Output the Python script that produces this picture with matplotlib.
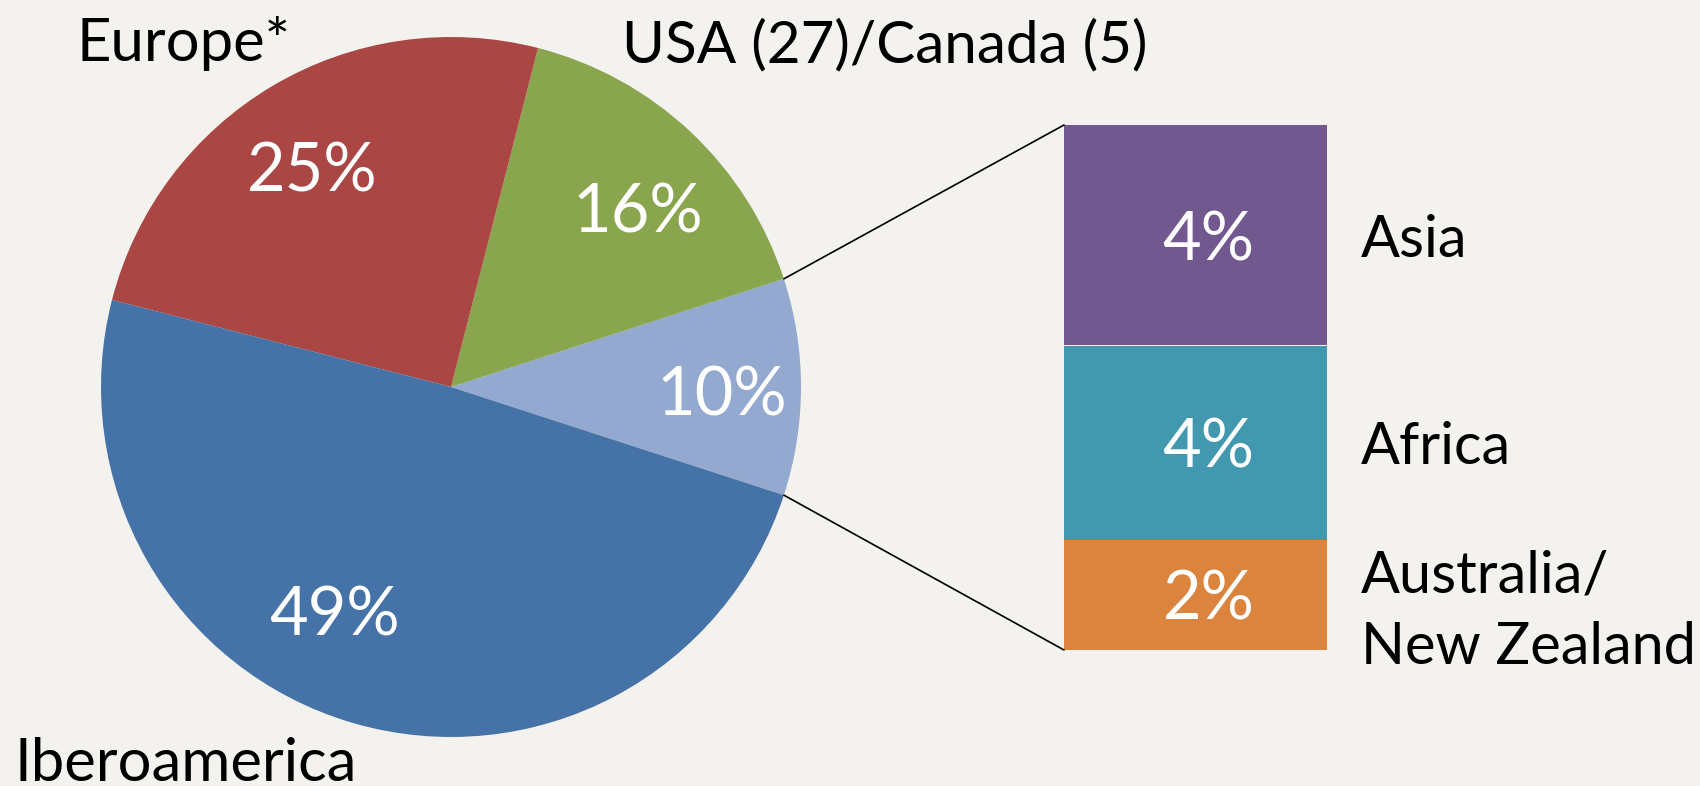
import numpy as np
import matplotlib.pyplot as plt
from matplotlib.patches import ConnectionPatch

plt.rcParams['font.family'] = ['Lato', 'DejaVu Sans']

# Main pie data (counter-clockwise from the "other" wedge on the right)
pie_labels = ['Other', 'USA (27)/Canada (5)', 'Europe*', 'Iberoamerica']
pie_values = [10, 16, 25, 49]
pie_colors = ['#93A9CF', '#89A54E', '#AA4643', '#4572A7']

# Breakdown of "Other" (bottom to top)
bar_labels = ['Australia/\nNew Zealand', 'Africa', 'Asia']
bar_values = [2.1, 3.7, 4.2]
bar_colors = ['#DB843D', '#4198AF', '#71588F']

bg = '#F3F2EE'
W, H = 1700, 786

fig = plt.figure(figsize=(W / 100, H / 100), dpi=100, facecolor=bg)

# pie
ax1 = fig.add_axes([101 / W, (H - 737) / H, 700 / W, 700 / H])
wedges, texts, autotexts = ax1.pie(
    pie_values, colors=pie_colors, startangle=-18, counterclock=True,
    autopct='%1.0f%%', radius=1,
    wedgeprops=dict(linewidth=0),
    textprops=dict(color='white', fontsize=48))
# percent labels placed like the original (in pie radius units)
pct_pos = [(0.774, -0.011), (0.534, 0.514), (-0.397, 0.629), (-0.334, -0.64)]
for t, p in zip(autotexts, pct_pos):
    t.set_position(p)
    t.set_va('center_baseline')
ax1.set_xlim(-1, 1)
ax1.set_ylim(-1, 1)
ax1.axis('off')

# outside labels of the pie
fig.text(76 / W, 1 - 61 / H, pie_labels[2], fontsize=43, va='baseline')
fig.text(622 / W, 1 - 62 / H, pie_labels[1], fontsize=42, va='baseline')
fig.text(14 / W, 1 - 781 / H, pie_labels[3], fontsize=43, va='baseline')

# stacked bar
ax2 = fig.add_axes([1064 / W, (H - 650) / H, 263 / W, 525 / H])
bottom = 0
for lab, val, col in zip(bar_labels, bar_values, bar_colors):
    ax2.bar(0, val, width=1, bottom=bottom, color=col, linewidth=0)
    ax2.text(0.05, bottom + val / 2, '%d%%' % round(val), color='white',
             fontsize=48, ha='center', va='center_baseline')
    yl = bottom + val / 2
    if '\n' in lab:
        yl -= 0.05
    ax2.text(0.63, yl, lab, color='black', fontsize=41.5,
             ha='left', va='center_baseline', linespacing=1.42)
    bottom += val
ax2.set_xlim(-0.5, 0.5)
ax2.set_ylim(0, bottom)
ax2.axis('off')

# connector lines from the "Other" wedge to the bar
w = wedges[0]
cx, cy = w.center
r = w.r
for theta, ybar in [(w.theta2, bottom), (w.theta1, 0)]:
    x = r * np.cos(np.radians(theta)) + cx
    y = r * np.sin(np.radians(theta)) + cy
    con = ConnectionPatch(xyA=(-0.5, ybar), coordsA=ax2.transData,
                          xyB=(x, y), coordsB=ax1.transData,
                          color='black', linewidth=1.2)
    fig.add_artist(con)

fig.savefig('out.png', dpi=100, facecolor=bg)
